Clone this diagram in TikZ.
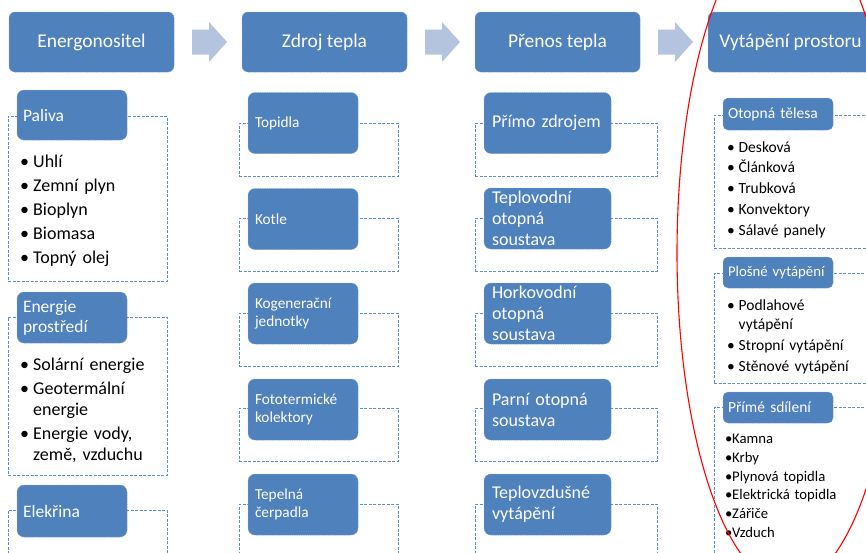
\documentclass[tikz,border=0pt]{standalone}
\usepackage{fontspec}
\setmainfont{Carlito}
\usetikzlibrary{calc}
\definecolor{boxblue}{HTML}{4F81BD}
\definecolor{boxedge}{HTML}{7399CF}
\definecolor{contblue}{HTML}{5F8DCC}
\definecolor{arrowfill}{HTML}{B4C4DF}
\newcommand\bul[2]{\makebox[#1][l]{\textbullet}#2}
\newcommand\hang[2]{\hspace*{#1}#2}
\newcommand\blockarrow[2]{%
  \path coordinate (m#1#2) at ($(#1.east)!0.5!(#2.west)$);
  \fill[arrowfill, shift={(m#1#2)}] (-16,-12.5) -- (1,-12.5) -- (1,-20) -- (19,0) -- (1,20) -- (1,12.5) -- (-16,12.5) -- cycle;}
\begin{document}
\begin{tikzpicture}[x=1pt,y=-1pt,
  hbox/.style={rectangle, rounded corners=6pt, fill=boxblue, draw=boxedge, line width=0.5pt, dash pattern=on 1pt off 0.8pt, text=white, minimum width=165pt, minimum height=60pt, inner sep=0pt, font=\fontsize{19.5}{23}\selectfont},
  cont/.style={rectangle, draw=contblue, dash pattern=on 3pt off 1.5pt, line width=0.8pt, inner sep=0pt, outer sep=0pt, anchor=north west},
  bbox/.style={rectangle, rounded corners=7pt, fill=boxblue, draw=boxedge, line width=0.5pt, dash pattern=on 1pt off 0.8pt, text=white, inner ysep=0pt, align=left, anchor=center},
  bA/.style={bbox, minimum width=110pt, text width=98pt, inner xsep=6pt, font=\fontsize{17.5}{20}\selectfont},
  bB/.style={bbox, minimum width=110pt, minimum height=61pt, text width=96pt, inner xsep=7pt, font=\fontsize{15.3}{18}\selectfont},
  bC/.style={bbox, minimum width=127pt, minimum height=61pt, text width=111pt, inner xsep=8pt, font=\fontsize{18}{21}\selectfont},
  bD/.style={bbox, rounded corners=5pt, minimum width=110pt, text width=100pt, inner xsep=5pt, font=\fontsize{15.5}{18}\selectfont},
  lst/.style={anchor=base west, inner sep=0pt, text width=150pt, align=left, text=black}
]
\useasboundingbox (0,0) rectangle (866,552);
\clip (0,0) rectangle (866,552);

% headers
\node[hbox] (h1) at (91.5,42) {Energonositel};
\node[hbox] (h2) at (324.5,42) {Zdroj tepla};
\node[hbox] (h3) at (557.5,42) {Přenos tepla};
\node[hbox] (h4) at (790.5,42) {Vytápění prostoru};
\blockarrow{h1}{h2}
\blockarrow{h2}{h3}
\blockarrow{h3}{h4}

% column 1
\node[cont, minimum width=159pt, minimum height=165pt] (c1a) at (8,116) {};
\node[cont, minimum width=159pt, minimum height=158pt] (c1b) at (8,317) {};
\node[cont, minimum width=159pt, minimum height=100pt] (c1c) at (8,510) {};
\node[bA, minimum height=50pt] (p1a) at (72,115) {Paliva};
\node[bA, minimum height=51pt] (p1b) at (72,317.5) {Energie\\prostředí};
\node[bA, minimum height=52pt] (p1c) at (72,511) {Elekřina};
\node[lst, font=\fontsize{18}{24.2}\selectfont] (l1a) at (20,167) {\bul{13pt}{Uhlí}\\\bul{13pt}{Zemní plyn}\\\bul{13pt}{Bioplyn}\\\bul{13pt}{Biomasa}\\\bul{13pt}{Topný olej}};
\node[lst, font=\fontsize{18}{21.5}\selectfont] (l1b) at (20,370) {\bul{13pt}{Solární energie}\\[2.5pt]\bul{13pt}{Geotermální}\\\hang{13pt}{energie}\\[2pt]\bul{13pt}{Energie vody,}\\\hang{13pt}{země, vzduchu}};

% column 2
\node[cont, minimum width=159pt, minimum height=53pt] (c2a) at (239,123) {};
\node[cont, minimum width=159pt, minimum height=53pt] (c2b) at (239,218) {};
\node[cont, minimum width=159pt, minimum height=53pt] (c2c) at (239,313) {};
\node[cont, minimum width=159pt, minimum height=53pt] (c2d) at (239,408) {};
\node[cont, minimum width=159pt, minimum height=53pt] (c2e) at (239,504) {};
\node[bB] (p2a) at (303,123) {Topidla};
\node[bB] (p2b) at (303,219) {Kotle};
\node[bB] (p2c) at (303,313.5) {Kogenerační\\jednotky};
\node[bB] (p2d) at (303,409.5) {Fototermické\\kolektory};
\node[bB] (p2e) at (303,504.5) {Tepelná\\čerpadla};

% column 3
\node[cont, minimum width=182pt, minimum height=53pt] (c3a) at (475,123) {};
\node[cont, minimum width=182pt, minimum height=53pt] (c3b) at (475,218) {};
\node[cont, minimum width=182pt, minimum height=53pt] (c3c) at (475,313) {};
\node[cont, minimum width=182pt, minimum height=53pt] (c3d) at (475,408) {};
\node[cont, minimum width=182pt, minimum height=53pt] (c3e) at (475,504) {};
\node[bC] (p3a) at (547.5,123) {Přímo zdrojem};
\node[bC] (p3b) at (547.5,218.5) {Teplovodní\\otopná\\soustava};
\node[bC] (p3c) at (547.5,313.5) {Horkovodní\\otopná\\soustava};
\node[bC] (p3d) at (547.5,409.5) {Parní otopná\\soustava};
\node[bC] (p3e) at (547.5,504.5) {Teplovzdušné\\vytápění};

% column 4
\node[cont, minimum width=200pt, minimum height=133pt] (c4a) at (714,115) {};
\node[cont, minimum width=200pt, minimum height=110pt] (c4b) at (714,273) {};
\node[cont, minimum width=200pt, minimum height=200pt] (c4c) at (714,407) {};
\node[bD, minimum height=32pt] (p4a) at (778,114) {Otopná tělesa};
\node[bD, minimum height=31pt, font=\fontsize{14.8}{18}\selectfont] (p4b) at (778,272.5) {\mbox{Plošné vytápění}};
\node[bD, minimum height=31pt] (p4c) at (778,407.5) {Přímé sdílení};
\node[lst, font=\fontsize{15.5}{20.75}\selectfont] (l4a) at (727,152) {\bul{11.5pt}{Desková}\\\bul{11.5pt}{Článková}\\\bul{11.5pt}{Trubková}\\\bul{11.5pt}{Konvektory}\\\bul{11.5pt}{Sálavé panely}};
\node[lst, font=\fontsize{15.5}{19}\selectfont] (l4b) at (727,310) {\bul{11.5pt}{Podlahové}\\\hang{11.5pt}{vytápění}\\[2pt]\bul{11.5pt}{Stropní vytápění}\\[2pt]\bul{11.5pt}{Stěnové vytápění}};
\node[lst, font=\fontsize{14.7}{18.8}\selectfont] (l4c) at (725,443.5) {\bul{7pt}{Kamna}\\\bul{7pt}{Krby}\\\bul{7pt}{Plynová topidla}\\\bul{7pt}{Elektrická topidla}\\\bul{7pt}{Zářiče}\\\bul{7pt}{Vzduch}};

% red ellipse
\draw[red, line width=1.1pt] (788,253) ellipse [x radius=111, y radius=332];
\end{tikzpicture}
\end{document}
